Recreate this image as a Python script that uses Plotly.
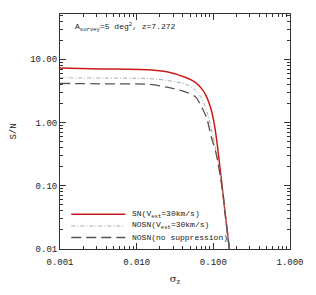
import plotly.graph_objects as go
import numpy as np

sigma_sn = [0.001, 0.0034, 0.0141, 0.0248, 0.0438, 0.0583, 0.0712, 0.0818, 0.0942, 0.1027, 0.112, 0.122, 0.1327, 0.144, 0.162]
sn_sn = [7.3, 7.05, 6.8, 6.34, 5.14, 4.31, 3.37, 2.55, 1.56, 0.96, 0.47, 0.195, 0.080, 0.033, 0.01]

sigma_nosn = [0.001, 0.0034, 0.0141, 0.0248, 0.0438, 0.0583, 0.0712, 0.0842, 0.0973, 0.108, 0.1327, 0.144, 0.162]
sn_nosn = [5.1, 5.05, 4.96, 4.63, 4.02, 3.26, 2.38, 1.36, 0.67, 0.37, 0.080, 0.033, 0.01]

sigma_nosup = [0.001, 0.0034, 0.0141, 0.0248, 0.0438, 0.0583, 0.0667, 0.0818, 0.0942, 0.108, 0.1327, 0.144, 0.162]
sn_nosup = [4.16, 4.09, 4.02, 3.62, 3.03, 2.55, 2.0, 1.18, 0.585, 0.334, 0.080, 0.033, 0.01]

series_names = ["SN(V<sub>est</sub>=30km/s)", "NOSN(V<sub>est</sub>=30km/s)", "NOSN(no suppression)"]

x_tickvals = [0.001, 0.01, 0.1, 1.0]
x_ticktext = ["0.001", "0.010", "0.100", "1.000"]
y_tickvals = [0.01, 0.1, 1.0, 10.0]
y_ticktext = ["0.01", "0.10", "1.00", "10.00"]

FONT = "Liberation Mono"
TXT = "#222222"

styles = [dict(color="#cc1a1a", width=1.5, dash="solid"),
          dict(color="#aaaaaa", width=1, dash="4px,2px,1px,2px"),
          dict(color="#555555", width=1.3, dash="10px,5px")]

fig = go.Figure()
for xs, ys, nm, st in zip([sigma_sn, sigma_nosn, sigma_nosup], [sn_sn, sn_nosn, sn_nosup], series_names, styles):
    fig.add_trace(go.Scatter(x=xs, y=ys, mode="lines", line=dict(shape="spline", smoothing=0.8, **st),
                             name=nm, showlegend=False))

leg_y = [0.148, 0.098, 0.049]
for yy, nm, st in zip(leg_y, series_names, styles):
    fig.add_shape(type="line", xref="paper", yref="paper", x0=0.049, x1=0.284, y0=yy, y1=yy,
                  line=dict(color=st["color"], width=st["width"], dash=st["dash"]))
    fig.add_annotation(x=0.305, y=yy, xref="paper", yref="paper", xanchor="left", yanchor="middle",
                       showarrow=False, text=nm, font=dict(family=FONT, size=8, color=TXT))

minor_x = [m * 10.0 ** e for e in range(-3, 0) for m in range(2, 10)]
minor_y = [m * 10.0 ** e for e in range(-2, 2) for m in range(2, 10) if m * 10.0 ** e < 52]

axis_common = dict(type="log", showgrid=False, zeroline=False, showline=True, linecolor="#333333", linewidth=1,
                   mirror="allticks", ticks="inside", ticklen=6, tickcolor="#333333",
                   tickfont=dict(family=FONT, size=9, color=TXT), ticklabeloverflow="allow")

fig.update_xaxes(**axis_common, range=[-3, 0], tickvals=x_tickvals, ticktext=x_ticktext, ticklabelstandoff=4,
                 minor=dict(tickvals=minor_x, ticks="inside", ticklen=3, tickcolor="#333333"),
                 title=dict(text="σ<sub>z</sub>", font=dict(family="DejaVu Serif", size=10, color=TXT), standoff=8))
fig.update_yaxes(**axis_common, range=[-2, np.log10(52)], tickvals=y_tickvals, ticktext=y_ticktext,
                 minor=dict(tickvals=minor_y, ticks="inside", ticklen=3, tickcolor="#333333"),
                 title=dict(text="S/N", font=dict(family=FONT, size=9, color=TXT), standoff=12))

fig.add_annotation(x=0.058, y=0.943, xref="paper", yref="paper", xanchor="left", yanchor="middle", showarrow=False,
                   text="A<sub>survey</sub>=5 deg<sup>2</sup>, z=7.272", font=dict(family=FONT, size=8, color=TXT))

fig.update_layout(width=316, height=295, margin=dict(l=57, r=16, t=14, b=37),
                  plot_bgcolor="white", paper_bgcolor="white", showlegend=False)

fig.write_html("out.html", config={"displayModeBar": False},
               post_script="document.body.style.margin='0';document.body.style.overflow='hidden';"
                           "document.documentElement.style.overflow='hidden';")
